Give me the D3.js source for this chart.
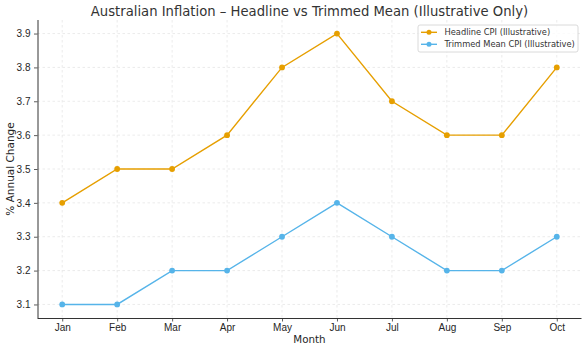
<!DOCTYPE html>
<html><head><meta charset="utf-8">
<script src="https://cdn.jsdelivr.net/npm/d3@7"></script>
<style>body{margin:0;background:#fff}svg{display:block;font-family:"DejaVu Sans",sans-serif}</style>
</head><body><svg id="c" width="588" height="351"></svg>
<script>
const months = ["Jan","Feb","Mar","Apr","May","Jun","Jul","Aug","Sep","Oct"];
const headline = [3.4,3.5,3.5,3.6,3.8,3.9,3.7,3.6,3.6,3.8];
const trimmed = [3.1,3.1,3.2,3.2,3.3,3.4,3.3,3.2,3.2,3.3];
const yTicks = [3.1,3.2,3.3,3.4,3.5,3.6,3.7,3.8,3.9];
const seriesNames = ["Headline CPI (Illustrative)","Trimmed Mean CPI (Illustrative)"];
const colors = ["#E69F00","#56B4E9"];

const svg = d3.select("#c");
const L = 37.5, R = 581.5, T = 20, B = 318;
const x = d3.scaleLinear().domain([-0.45, 9.45]).range([L, R]);
const y = d3.scaleLinear().domain([3.06, 3.94]).range([B, T]);

// grid
const g = svg.append("g");
g.selectAll(".gx").data(months).join("line")
  .attr("x1",(d,i)=>x(i)).attr("x2",(d,i)=>x(i)).attr("y1",T).attr("y2",B)
  .attr("stroke","#e2e2e2").attr("stroke-width",0.7).attr("stroke-dasharray","2.5,2.5");
g.selectAll(".gy").data(yTicks).join("line")
  .attr("x1",L).attr("x2",R).attr("y1",d=>y(d)).attr("y2",d=>y(d))
  .attr("stroke","#e2e2e2").attr("stroke-width",0.7).attr("stroke-dasharray","2.5,2.5");

// axes
const xAxis = d3.axisBottom(x).tickValues(d3.range(months.length)).tickFormat(i=>months[i]).tickSize(3.5).tickPadding(2.5);
const yAxis = d3.axisLeft(y).tickValues(yTicks).tickFormat(d3.format(".1f")).tickSize(3.5).tickPadding(3.5);
const ax = svg.append("g").attr("transform",`translate(0,${B})`).call(xAxis);
const ay = svg.append("g").attr("transform",`translate(${L},0)`).call(yAxis);
[ax,ay].forEach(a=>{
  a.select(".domain").attr("stroke","#333").attr("stroke-width",1);
  a.selectAll(".tick line").attr("stroke","#333").attr("stroke-width",0.8);
  a.selectAll(".tick text").attr("fill","#262626").attr("font-size",10);
});
ax.select(".domain").attr("d",`M${L},0.5H${R}`);
ay.select(".domain").attr("d",`M0.5,${B}V${T}`);

// series
const line = d3.line().x((d,i)=>x(i)).y(d=>y(d));
[headline, trimmed].forEach((s,k)=>{
  svg.append("path").datum(s).attr("d",line).attr("fill","none")
    .attr("stroke",colors[k]).attr("stroke-width",1.4);
  svg.append("g").selectAll("circle").data(s).join("circle")
    .attr("cx",(d,i)=>x(i)).attr("cy",d=>y(d)).attr("r",2.9).attr("fill",colors[k]);
});

// title & labels
svg.append("text").attr("x",(L+R)/2).attr("y",16).attr("text-anchor","middle")
  .attr("font-size",13.2).attr("fill","#333").text("Australian Inflation – Headline vs Trimmed Mean (Illustrative Only)");
svg.append("text").attr("x",(L+R)/2).attr("y",342.5).attr("text-anchor","middle")
  .attr("font-size",10.3).attr("fill","#262626").text("Month");
svg.append("text").attr("transform",`translate(13.5,${(T+B)/2}) rotate(-90)`).attr("text-anchor","middle")
  .attr("font-size",10.5).attr("fill","#262626").text("% Annual Change");

// legend
const lg = svg.append("g").attr("transform","translate(418,25)");
lg.append("rect").attr("x",0).attr("y",0).attr("width",160).attr("height",27).attr("rx",2)
  .attr("fill","#fff").attr("fill-opacity",0.8).attr("stroke","#d0d0d0").attr("stroke-width",0.8);
seriesNames.forEach((n,k)=>{
  const yy = 7.3 + k*12;
  lg.append("line").attr("x1",3).attr("x2",19).attr("y1",yy).attr("y2",yy).attr("stroke",colors[k]).attr("stroke-width",1.4);
  lg.append("circle").attr("cx",11).attr("cy",yy).attr("r",2.5).attr("fill",colors[k]);
  lg.append("text").attr("x",26.5).attr("y",yy+3).attr("font-size",8.3).attr("fill","#333").text(n);
});
</script></body></html>
